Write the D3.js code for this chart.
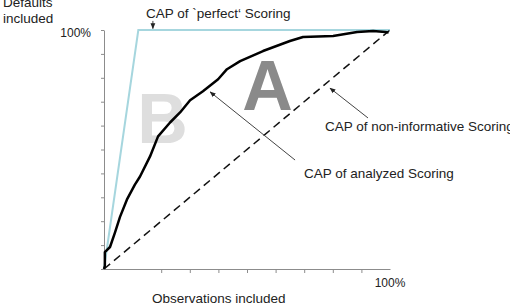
<!DOCTYPE html>
<html>
<head>
<meta charset="utf-8">
<script src="https://cdnjs.cloudflare.com/ajax/libs/d3/7.8.5/d3.min.js"></script>
<style>
  body { margin: 0; background: #fff; }
  svg { display: block; font-family: "Liberation Sans", Arial, sans-serif; }
  .axis path, .axis line { stroke: #8c8c8c; }
  .axis text { font-size: 12px; fill: #222; font-family: "Liberation Sans", Arial, sans-serif; }
  .label { font-size: 13.5px; fill: #222; }
</style>
</head>
<body>
<div class="container"></div>
<script>
// share of observations included (%) vs. share of defaults included (%)
const capX = [0, 0.3, 0.3, 2.1, 3.8, 5.6, 8.0, 10.8, 12.6, 16.1, 18.9, 23.1, 26.6, 30.1, 34.6, 39.9, 43.0, 47.6, 55.6, 65.0, 69.6, 80.1, 88.5, 94.1, 98.3, 99.5];
const capY = [0, 1.3, 7.1, 9.2, 15.1, 21.8, 29.0, 35.3, 38.7, 47.1, 55.5, 61.3, 65.5, 70.6, 74.4, 79.4, 83.6, 87.0, 91.2, 95.4, 97.1, 97.5, 99.2, 99.6, 99.2, 99.0];
const perfectX = [0, 12, 100];
const perfectY = [0, 100, 100];
const randomX = [0, 100];
const randomY = [0, 100];

const yTicks = [0, 10, 20, 30, 40, 50, 60, 70, 80, 90, 100];
const xTicks = [20, 30, 40, 50, 60, 70, 80, 90];

// annotation arrows in data units: [x1, y1, x2, y2]
const arrows = [
    [17.1, 103.8, 17.1, 100.6],
    [92.3, 63.2, 79.0, 75.7],
    [66.8, 45.6, 37.1, 74.1]
];

const w = 510;
const h = 306;

const svg = d3.select(".container")
              .append("svg")
              .attr("width", w)
              .attr("height", h);

svg.append("defs").append("marker")
   .attr("id", "arrow")
   .attr("viewBox", "0 0 10 10")
   .attr("refX", 9)
   .attr("refY", 5)
   .attr("markerWidth", 6)
   .attr("markerHeight", 6)
   .attr("orient", "auto")
   .append("path")
   .attr("d", "M0,1 L10,5 L0,9 z")
   .attr("fill", "#222");

const xScale = d3.scaleLinear().domain([0, 100]).range([104, 390]);
const yScale = d3.scaleLinear().domain([0, 100]).range([269, 30]);

/* big area letters behind everything */
svg.append("text")
   .text("B")
   .attr("x", xScale(11.6))
   .attr("y", yScale(52.7))
   .attr("font-size", 70)
   .attr("font-weight", "bold")
   .attr("fill", "#dedede");

svg.append("text")
   .text("A")
   .attr("x", xScale(48.3))
   .attr("y", yScale(66.5))
   .attr("font-size", 70)
   .attr("font-weight", "bold")
   .attr("fill", "#8a8a8a");

/* axes */
svg.append("g")
   .attr("class", "axis")
   .attr("transform", "translate(" + xScale(0) + ",0)")
   .call(d3.axisLeft(yScale)
           .tickValues(yTicks)
           .tickSize(3)
           .tickSizeOuter(0)
           .tickPadding(10)
           .tickFormat((d) => d === 100 ? "100%" : ""))
   .selectAll("text")
   .attr("dy", "0.5em");

svg.append("g")
   .attr("class", "axis")
   .attr("transform", "translate(0," + yScale(0) + ")")
   .call(d3.axisBottom(xScale)
           .tickValues(xTicks)
           .tickSize(4)
           .tickSizeOuter(0)
           .tickFormat(""));

svg.append("text")
   .attr("font-size", 12)
   .attr("fill", "#222")
   .attr("x", xScale(100))
   .attr("y", yScale(0) + 18)
   .attr("text-anchor", "middle")
   .text("100%");

/* curves */
const line = d3.line()
               .x((d) => xScale(d[0]))
               .y((d) => yScale(d[1]));

svg.append("path")
   .datum(perfectX.map((d, i) => [d, perfectY[i]]))
   .attr("d", line)
   .attr("fill", "none")
   .attr("stroke", "#a6d6de")
   .attr("stroke-width", 2);

svg.append("path")
   .datum(randomX.map((d, i) => [d, randomY[i]]))
   .attr("d", line)
   .attr("fill", "none")
   .attr("stroke", "#111")
   .attr("stroke-width", 1.5)
   .attr("stroke-dasharray", "8,5");

svg.append("path")
   .datum(capX.map((d, i) => [d, capY[i]]))
   .attr("d", line)
   .attr("fill", "none")
   .attr("stroke", "#000")
   .attr("stroke-width", 2.5)
   .attr("stroke-linejoin", "round");

/* annotation arrows */
svg.selectAll(".arrow")
   .data(arrows)
   .enter()
   .append("line")
   .attr("class", "arrow")
   .attr("x1", (d) => xScale(d[0]))
   .attr("y1", (d) => yScale(d[1]))
   .attr("x2", (d) => xScale(d[2]))
   .attr("y2", (d) => yScale(d[3]))
   .attr("stroke", "#444")
   .attr("stroke-width", 1)
   .attr("marker-end", "url(#arrow)");

/* labels */
svg.append("text").attr("class", "label").attr("x", 146).attr("y", 18)
   .text("CAP of `perfect\u2018 Scoring");
svg.append("text").attr("class", "label").attr("x", 325).attr("y", 131)
   .text("CAP of non-informative Scoring");
svg.append("text").attr("class", "label").attr("x", 304).attr("y", 178)
   .text("CAP of analyzed Scoring");
svg.append("text").attr("class", "label").attr("x", 152).attr("y", 303)
   .text("Observations included");
svg.append("text").attr("class", "label").attr("x", 3).attr("y", 7)
   .text("Defaults");
svg.append("text").attr("class", "label").attr("x", 3).attr("y", 23)
   .text("included");
</script>
</body>
</html>
